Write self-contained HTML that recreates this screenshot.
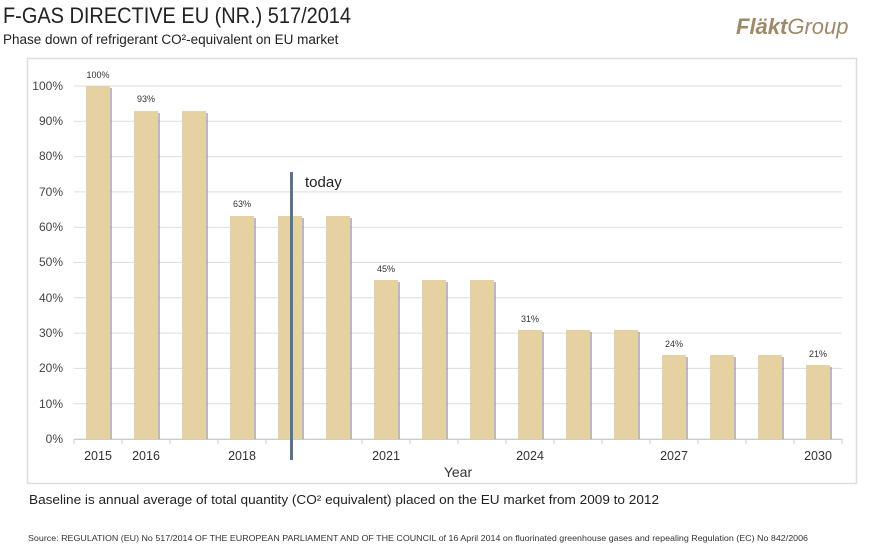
<!DOCTYPE html>
<html><head><meta charset="utf-8"><style>
body{margin:0;background:#fff;width:872px;height:548px;overflow:hidden;font-family:"Liberation Sans",sans-serif}
</style></head><body>
<svg width="872" height="548" xmlns="http://www.w3.org/2000/svg" font-family="Liberation Sans, sans-serif">
<text x="3" y="23" font-size="22" fill="#222" textLength="348" lengthAdjust="spacingAndGlyphs">F-GAS DIRECTIVE EU (NR.) 517/2014</text>
<text x="3" y="44" font-size="13.5" fill="#222">Phase down of refrigerant CO²-equivalent on EU market</text>
<text x="736" y="34" font-size="22" font-weight="bold" font-style="italic" fill="#9d8a6a">Fläkt<tspan font-weight="normal">Group</tspan></text>
<rect x="27.5" y="58.5" width="829" height="425" fill="#fff" stroke="#ddd" stroke-width="1.5"/>
<g stroke="#ddd" stroke-width="1">
<line x1="74" x2="842" y1="86" y2="86"/><line x1="74" x2="842" y1="121.3" y2="121.3"/><line x1="74" x2="842" y1="156.6" y2="156.6"/><line x1="74" x2="842" y1="191.9" y2="191.9"/><line x1="74" x2="842" y1="227.2" y2="227.2"/><line x1="74" x2="842" y1="262.5" y2="262.5"/><line x1="74" x2="842" y1="297.8" y2="297.8"/><line x1="74" x2="842" y1="333.1" y2="333.1"/><line x1="74" x2="842" y1="368.4" y2="368.4"/><line x1="74" x2="842" y1="403.7" y2="403.7"/><line x1="74" x2="842" y1="439" y2="439"/>
</g>
<g font-size="12" fill="#444" text-anchor="end">
<text x="63" y="90">100%</text><text x="63" y="125">90%</text><text x="63" y="160">80%</text><text x="63" y="196">70%</text><text x="63" y="231">60%</text><text x="63" y="266">50%</text><text x="63" y="302">40%</text><text x="63" y="337">30%</text><text x="63" y="372">20%</text><text x="63" y="408">10%</text><text x="63" y="443">0%</text>
</g>
<g id="bars">
<!-- shadow + bar -->
<g fill="#8a8f99" opacity="0.6">
<rect x="110" y="88" width="2" height="351"/><rect x="158" y="113" width="2" height="326"/><rect x="206" y="113" width="2" height="326"/><rect x="254" y="218" width="2" height="221"/><rect x="302" y="218" width="2" height="221"/><rect x="350" y="218" width="2" height="221"/><rect x="398" y="282" width="2" height="157"/><rect x="446" y="282" width="2" height="157"/><rect x="494" y="282" width="2" height="157"/><rect x="542" y="332" width="2" height="107"/><rect x="590" y="332" width="2" height="107"/><rect x="638" y="332" width="2" height="107"/><rect x="686" y="357" width="2" height="82"/><rect x="734" y="357" width="2" height="82"/><rect x="782" y="357" width="2" height="82"/><rect x="830" y="367" width="2" height="72"/>
</g>
<g fill="#e6d1a2">
<rect x="86" y="86" width="24" height="353"/><rect x="134" y="111" width="24" height="328"/><rect x="182" y="111" width="24" height="328"/><rect x="230" y="216" width="24" height="223"/><rect x="278" y="216" width="24" height="223"/><rect x="326" y="216" width="24" height="223"/><rect x="374" y="280" width="24" height="159"/><rect x="422" y="280" width="24" height="159"/><rect x="470" y="280" width="24" height="159"/><rect x="518" y="330" width="24" height="109"/><rect x="566" y="330" width="24" height="109"/><rect x="614" y="330" width="24" height="109"/><rect x="662" y="355" width="24" height="84"/><rect x="710" y="355" width="24" height="84"/><rect x="758" y="355" width="24" height="84"/><rect x="806" y="365" width="24" height="74"/>
</g>
</g>
<g stroke="#ccc"><line x1="74" x2="842" y1="439.5" y2="439.5"/>
<line x1="74" x2="74" y1="439" y2="444"/><line x1="122" x2="122" y1="439" y2="444"/><line x1="170" x2="170" y1="439" y2="444"/><line x1="218" x2="218" y1="439" y2="444"/><line x1="266" x2="266" y1="439" y2="444"/><line x1="362" x2="362" y1="439" y2="444"/><line x1="410" x2="410" y1="439" y2="444"/><line x1="458" x2="458" y1="439" y2="444"/><line x1="506" x2="506" y1="439" y2="444"/><line x1="554" x2="554" y1="439" y2="444"/><line x1="602" x2="602" y1="439" y2="444"/><line x1="650" x2="650" y1="439" y2="444"/><line x1="698" x2="698" y1="439" y2="444"/><line x1="746" x2="746" y1="439" y2="444"/><line x1="794" x2="794" y1="439" y2="444"/><line x1="842" x2="842" y1="439" y2="444"/></g>
<g font-size="9" fill="#333" text-anchor="middle">
<text x="98" y="78">100%</text><text x="146" y="102">93%</text><text x="242" y="207">63%</text><text x="386" y="272">45%</text><text x="530" y="322">31%</text><text x="674" y="347">24%</text><text x="818" y="357">21%</text>
</g>
<rect x="290" y="172" width="3" height="288" fill="#5f7288"/>
<text x="305" y="187" font-size="15" fill="#222">today</text>
<g font-size="12.5" fill="#333" text-anchor="middle">
<text x="98" y="460">2015</text><text x="146" y="460">2016</text><text x="242" y="460">2018</text><text x="386" y="460">2021</text><text x="530" y="460">2024</text><text x="674" y="460">2027</text><text x="818" y="460">2030</text>
</g>
<text x="458" y="477" font-size="14" fill="#333" text-anchor="middle">Year</text>
<text x="29" y="504" font-size="13" fill="#222" textLength="630" lengthAdjust="spacingAndGlyphs">Baseline is annual average of total quantity (CO² equivalent) placed on the EU market from 2009 to 2012</text>
<text x="28" y="541" font-size="8.5" fill="#333" textLength="780" lengthAdjust="spacingAndGlyphs">Source: REGULATION (EU) No 517/2014 OF THE EUROPEAN PARLIAMENT AND OF THE COUNCIL of 16 April 2014 on fluorinated greenhouse gases and repealing Regulation (EC) No 842/2006</text>
</svg>
</body></html>
